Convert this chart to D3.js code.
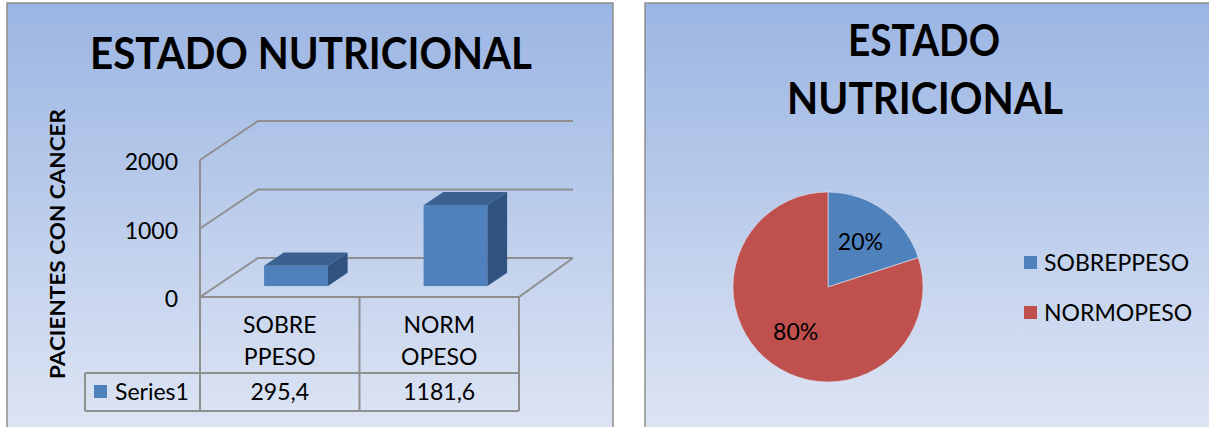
<!DOCTYPE html>
<html>
<head>
<meta charset="utf-8">
<script src="https://cdn.jsdelivr.net/npm/d3@7"></script>
<style>
  body { margin: 0; background: #fff; }
  svg { display: block; font-family: Lato, "Open Sans", sans-serif; }
</style>
</head>
<body>
<div id="main"></div>
<script>
// data
var categories = ["SOBREPPESO", "NORMOPESO"];
var categoryLines = [["SOBRE", "PPESO"], ["NORM", "OPESO"]];
var values = [295.4, 1181.6];
var valueLabels = ["295,4", "1181,6"];
var yTicks = [0, 1000, 2000];
var seriesName = "Series1";
var pieLabels = ["SOBREPPESO", "NORMOPESO"];
var pieValues = [20, 80];
var pieColors = ["#4f81bd", "#c0504d"];

var fs = 23; // body text size

var svg = d3.select('#main').append('svg')
    .attr('width', 1209)
    .attr('height', 427);

var defs = svg.append('defs');
var grad = defs.append('linearGradient')
    .attr('id', 'bg')
    .attr('gradientUnits', 'userSpaceOnUse')
    .attr('x1', 0).attr('y1', 3).attr('x2', 0).attr('y2', 440);
grad.append('stop').attr('offset', 0).attr('stop-color', '#9bb5e3');
grad.append('stop').attr('offset', 1).attr('stop-color', '#dfe6f4');

var gray = '#8f8f8f';

// panels
svg.append('rect')
    .attr('x', 7).attr('y', 3)
    .attr('width', 606).attr('height', 450)
    .attr('fill', 'url(#bg)')
    .attr('stroke', gray).attr('stroke-width', 1.5);

svg.append('rect')
    .attr('x', 645).attr('y', 3)
    .attr('width', 600).attr('height', 450)
    .attr('fill', 'url(#bg)')
    .attr('stroke', gray).attr('stroke-width', 1.5);

// ---------- left: 3D column chart ----------
var left = svg.append('g');

left.append('text')
    .attr('x', 311).attr('y', 69)
    .attr('text-anchor', 'middle')
    .attr('font-size', 44).attr('font-weight', 'bold')
    .attr('textLength', 442).attr('lengthAdjust', 'spacingAndGlyphs')
    .text("ESTADO NUTRICIONAL");

left.append('text')
    .attr('transform', 'translate(65,244) rotate(-90)')
    .attr('text-anchor', 'middle')
    .attr('font-size', 21).attr('font-weight', 'bold')
    .attr('textLength', 270).attr('lengthAdjust', 'spacingAndGlyphs')
    .text("PACIENTES CON CANCER");

var y = d3.scaleLinear().domain([0, 2000]).range([297, 160]);
var x = d3.scaleBand().domain(categories).range([200, 519]);
var dx = 58, dy = -39;        // depth vector of the 3D box
var xEnd = 573;               // right end of back gridlines

// gridlines on the back wall and left side
yTicks.forEach(function(t) {
    left.append('path')
        .attr('d', 'M200,' + y(t) + 'L' + (200 + dx) + ',' + (y(t) + dy) + 'L' + xEnd + ',' + (y(t) + dy))
        .attr('fill', 'none').attr('stroke', gray).attr('stroke-width', 2);
    left.append('text')
        .attr('x', 178).attr('y', y(t) + 2)
        .attr('dy', '0.35em')
        .attr('text-anchor', 'end')
        .attr('font-size', fs)
        .text(t);
});

left.append('line')
    .attr('x1', 200).attr('y1', y(2000))
    .attr('x2', 200).attr('y2', y(0))
    .attr('stroke', gray).attr('stroke-width', 2);

// floor
left.append('path')
    .attr('d', 'M200,' + y(0) + 'L' + x.range()[1] + ',' + y(0) + 'L' + xEnd + ',' + (y(0) + dy))
    .attr('fill', 'none').attr('stroke', gray).attr('stroke-width', 2);

// bars
var f0 = 0.28, f1 = 0.62;
var bw = x.bandwidth() * 0.4;
values.forEach(function(v, i) {
    var cx = x(categories[i]) + x.bandwidth() / 2 + f0 * dx;
    var x0 = cx - bw / 2, x1 = cx + bw / 2;
    var yb = y(0) + f0 * dy, yt = y(v) + f0 * dy;
    var ddx = (f1 - f0) * dx, ddy = (f1 - f0) * dy;
    left.append('rect')
        .attr('x', x0).attr('y', yt)
        .attr('width', bw).attr('height', yb - yt)
        .attr('fill', '#4f81bd');
    left.append('path')
        .attr('d', 'M' + x0 + ',' + yt + 'L' + x1 + ',' + yt + 'L' + (x1 + ddx) + ',' + (yt + ddy) +
                   'L' + (x0 + ddx) + ',' + (yt + ddy) + 'Z')
        .attr('fill', '#3b6192');
    left.append('path')
        .attr('d', 'M' + x1 + ',' + yt + 'L' + (x1 + ddx) + ',' + (yt + ddy) + 'L' + (x1 + ddx) + ',' + (yb + ddy) +
                   'L' + x1 + ',' + yb + 'Z')
        .attr('fill', '#30537f');
});

// data table
var tTop = y(0), tMid = 373, tBot = 411, tLeft = 85;
var tbl = left.append('g')
    .attr('fill', 'none').attr('stroke', gray).attr('stroke-width', 2);
tbl.append('path').attr('d', 'M' + tLeft + ',' + tMid + 'L' + x.range()[1] + ',' + tMid);
tbl.append('path').attr('d', 'M' + tLeft + ',' + tBot + 'L' + x.range()[1] + ',' + tBot);
tbl.append('path').attr('d', 'M' + tLeft + ',' + tMid + 'L' + tLeft + ',' + tBot);
x.domain().forEach(function(c) {
    tbl.append('path').attr('d', 'M' + x(c) + ',' + tTop + 'L' + x(c) + ',' + tBot);
});
tbl.append('path').attr('d', 'M' + x.range()[1] + ',' + tTop + 'L' + x.range()[1] + ',' + tBot);

categories.forEach(function(c, i) {
    var cx = x(c) + x.bandwidth() / 2;
    categoryLines[i].forEach(function(s, j) {
        left.append('text')
            .attr('x', cx).attr('y', 325 + j * 32)
            .attr('dy', '0.35em')
            .attr('text-anchor', 'middle')
            .attr('font-size', fs)
            .text(s);
    });
    left.append('text')
        .attr('x', cx).attr('y', 392)
        .attr('dy', '0.35em')
        .attr('text-anchor', 'middle')
        .attr('font-size', fs)
        .text(valueLabels[i]);
});

left.append('rect')
    .attr('x', 94).attr('y', 385)
    .attr('width', 13).attr('height', 13)
    .attr('fill', '#4f81bd');
left.append('text')
    .attr('x', 115).attr('y', 392)
    .attr('dy', '0.35em')
    .attr('font-size', fs)
    .text(seriesName);

// ---------- right: pie chart ----------
var right = svg.append('g');

right.append('text')
    .attr('x', 924).attr('y', 56)
    .attr('text-anchor', 'middle')
    .attr('font-size', 44).attr('font-weight', 'bold')
    .attr('textLength', 152).attr('lengthAdjust', 'spacingAndGlyphs')
    .text("ESTADO");
right.append('text')
    .attr('x', 925).attr('y', 114)
    .attr('text-anchor', 'middle')
    .attr('font-size', 44).attr('font-weight', 'bold')
    .attr('textLength', 276).attr('lengthAdjust', 'spacingAndGlyphs')
    .text("NUTRICIONAL");

var r = 95;
var pie = d3.pie().sort(null)(pieValues);
var arc = d3.arc().innerRadius(0).outerRadius(r);
var labelArc = d3.arc().innerRadius(r * 0.58).outerRadius(r * 0.58);

var pg = right.append('g').attr('transform', 'translate(828,287)');
pg.selectAll('path')
    .data(pie)
    .enter().append('path')
    .attr('d', arc)
    .attr('fill', function(d, i) { return pieColors[i]; })
    .attr('stroke', '#dfe6f4').attr('stroke-width', 0.6);

pg.selectAll('text')
    .data(pie)
    .enter().append('text')
    .attr('transform', function(d) { return 'translate(' + labelArc.centroid(d) + ')'; })
    .attr('dy', '0.35em')
    .attr('text-anchor', 'middle')
    .attr('font-size', fs)
    .text(function(d) { return d.data + '%'; });

pieLabels.forEach(function(s, i) {
    right.append('rect')
        .attr('x', 1024).attr('y', 256 + i * 50)
        .attr('width', 13).attr('height', 13)
        .attr('fill', pieColors[i]);
    right.append('text')
        .attr('x', 1044).attr('y', 263 + i * 50)
        .attr('dy', '0.35em')
        .attr('font-size', fs)
        .text(s);
});
</script>
</body>
</html>
